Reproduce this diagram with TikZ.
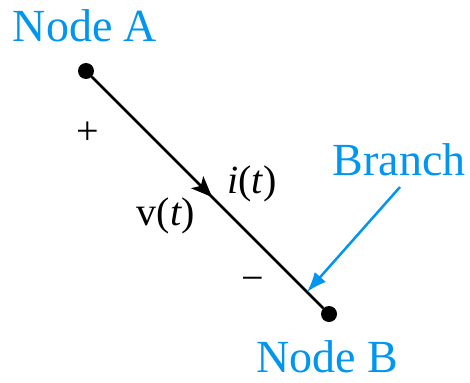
\documentclass[tikz,border=0pt]{standalone}
\usepackage{fontspec}
\setmainfont{Liberation Serif}
\usetikzlibrary{arrows.meta,decorations.markings}
\definecolor{cyanlabel}{RGB}{0,150,240}
\begin{document}
\begin{tikzpicture}[x=1pt,y=-1pt,
  dot/.style={circle,fill=black,inner sep=0pt,minimum size=16pt},
  bigtext/.style={text=cyanlabel,font=\fontsize{46}{50}\selectfont,inner sep=0pt,anchor=base},
  lbl/.style={font=\fontsize{40}{44}\selectfont,inner sep=0pt,anchor=base},
  wire/.style={line width=2.5pt,postaction={decorate},
    decoration={markings,mark=at position 0.52 with {\arrow{Stealth[length=21pt,width=17pt,inset=5pt]}}}},
  pointer/.style={cyanlabel,line width=2.5pt,-{Latex[length=20pt,width=15pt]}}]
\useasboundingbox (0,0) rectangle (470,382);
\node[dot] (A) at (86,71) {};
\node[dot] (B) at (329,314) {};
\draw[wire] (A) -- (B);
\node[bigtext] (la) at (85,42) {Node A};
\node[bigtext] (lb) at (327,372) {Node B};
\node[bigtext] (br) at (399,175) {Branch};
\coordinate (bs) at (400,187);
\coordinate (be) at (307,292);
\draw[pointer] (bs) -- (be);
\node[lbl,anchor=center] (plus) at (88,133) {+};
\node[lbl,anchor=center] (minus) at (253,284) {−};
\node[lbl] (v) at (166,225) {v(\textit{t})};
\node[lbl] (i) at (252,193) {\textit{i}(\textit{t})};
\end{tikzpicture}
\end{document}
